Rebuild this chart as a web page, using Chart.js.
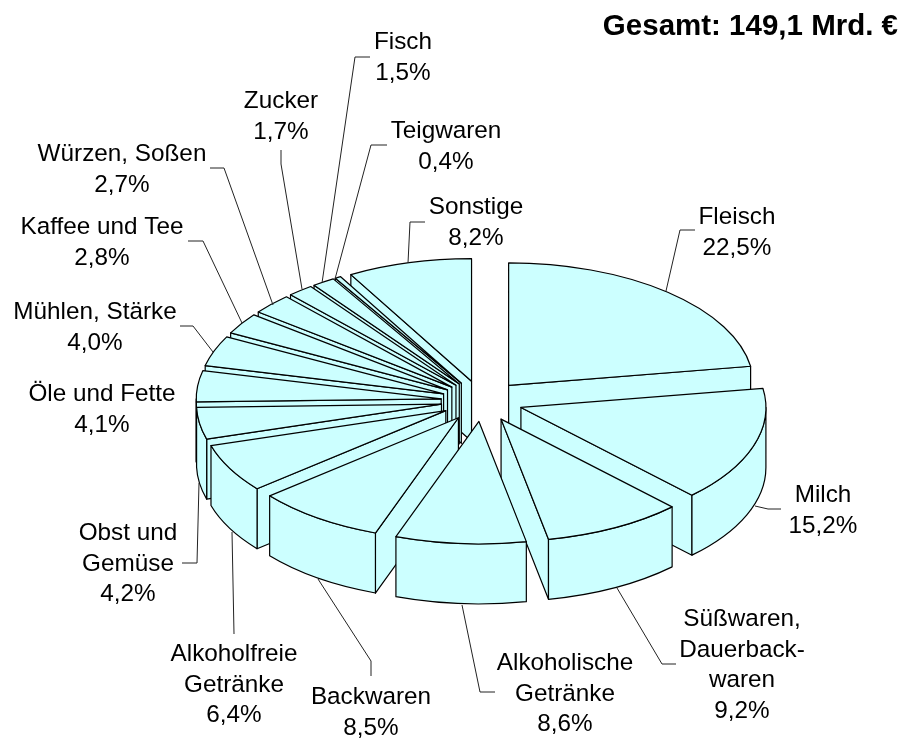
<!DOCTYPE html>
<html lang="de">
<head>
    <meta charset="UTF-8">
    <title>Gesamt: 149,1 Mrd. €</title>
    <script src="https://cdn.jsdelivr.net/npm/chart.js"></script>
    <style>
        html, body { margin: 0; padding: 0; background: #fff; }
        #wrap { position: relative; width: 906px; height: 738px; }
    </style>
</head>
<body>
    <div id="wrap"><canvas id="pie"></canvas></div>

    <script>
        const categories = ['Fleisch', 'Milch', 'Süßwaren, Dauerbackwaren', 'Alkoholische Getränke', 'Backwaren',
            'Alkoholfreie Getränke', 'Obst und Gemüse', 'Öle und Fette', 'Mühlen, Stärke', 'Kaffee und Tee',
            'Würzen, Soßen', 'Zucker', 'Fisch', 'Teigwaren', 'Sonstige'];
        const shares = [22.5, 15.2, 9.2, 8.6, 8.5, 6.4, 4.2, 4.1, 4.0, 2.8, 2.7, 1.7, 1.5, 0.4, 8.2];
        const labelLines = [['Fleisch'], ['Milch'], ['Süßwaren,', 'Dauerback-', 'waren'], ['Alkoholische', 'Getränke'],
            ['Backwaren'], ['Alkoholfreie', 'Getränke'], ['Obst und', 'Gemüse'], ['Öle und Fette'], ['Mühlen, Stärke'],
            ['Kaffee und Tee'], ['Würzen, Soßen'], ['Zucker'], ['Fisch'], ['Teigwaren'], ['Sonstige']];
        const totalText = 'Gesamt: 149,1 Mrd. €';

        // where each label sits: centre x, first baseline
        const labelPos = [[737, 224], [823, 502], [742, 626], [565, 670], [371, 704], [234, 661], [128, 540],
            [102, 401], [95, 319], [102, 234], [122, 161], [281, 108], [403, 49], [446, 138], [476, 214]];
        const lineStep = 30.5;

        // leader lines, null where the label has none
        const leaders = [
            [[695, 230], [680, 230], [666, 291]],
            [[755, 506], [768, 509], [781, 509]],
            [[617, 588], [662, 664], [676, 664]],
            [[462, 605], [480, 692], [495, 692]],
            [[318, 579], [371, 661], [371, 676]],
            [[232, 532], [234, 634]],
            [[199, 483], [197, 563], [182, 563]],
            null,
            [[213, 352], [193, 326], [180, 326]],
            [[242, 323], [203, 241], [188, 241]],
            [[273, 305], [224, 168], [210, 168]],
            [[302, 289], [281, 164], [281, 150]],
            [[322, 283], [355, 57], [370, 57]],
            [[335, 279], [371, 145], [387, 145]],
            [[408, 263], [410, 222], [425, 222]]
        ];

        const squash = 0.5;
        const explode = 41;
        const depth = 60;
        const edgeColor = '#000';
        const fillColor = '#CCFFFF';

        function sliceGeometry(arc) {
            const mid = (arc.startAngle + arc.endAngle) / 2;
            return {
                mid: mid,
                x: arc.x + Math.cos(mid) * explode,
                y: arc.y + Math.sin(mid) * explode * squash,
                r: arc.outerRadius
            };
        }

        function rimPoint(g, angle) {
            return [g.x + Math.cos(angle) * g.r, g.y + Math.sin(angle) * g.r * squash];
        }

        function drawCutFace(ctx, g, angle) {
            const e = rimPoint(g, angle);
            const m = rimPoint(g, g.mid);
            const dx = e[0] - g.x, dy = e[1] - g.y;
            // cross with straight down vs with the slice interior: only faces turned to us are seen
            const down = dx;
            const inside = dx * (m[1] - g.y) - dy * (m[0] - g.x);
            if (down * inside >= 0) return;
            ctx.beginPath();
            ctx.moveTo(g.x, g.y);
            ctx.lineTo(e[0], e[1]);
            ctx.lineTo(e[0], e[1] + depth);
            ctx.lineTo(g.x, g.y + depth);
            ctx.closePath();
            ctx.fill();
            ctx.stroke();
        }

        function drawRimWall(ctx, g, arc) {
            const from = Math.max(arc.startAngle, 0);
            const to = Math.min(arc.endAngle, Math.PI);
            if (to <= from) return;
            ctx.beginPath();
            ctx.ellipse(g.x, g.y, g.r, g.r * squash, 0, from, to);
            ctx.ellipse(g.x, g.y + depth, g.r, g.r * squash, 0, to, from, true);
            ctx.closePath();
            ctx.fill();
            ctx.stroke();
        }

        const pie3d = {
            id: 'pie3d',
            beforeDatasetsDraw(chart) {
                const ctx = chart.ctx;
                const arcs = chart.getDatasetMeta(0).data.slice();
                // painter's order: back slices first
                arcs.sort((a, b) => sliceGeometry(a).y - sliceGeometry(b).y);
                ctx.save();
                ctx.lineWidth = 1.2;
                ctx.lineJoin = 'round';
                ctx.strokeStyle = edgeColor;
                ctx.fillStyle = fillColor;
                arcs.forEach(arc => {
                    const g = sliceGeometry(arc);
                    drawCutFace(ctx, g, arc.startAngle);
                    drawCutFace(ctx, g, arc.endAngle);
                    drawRimWall(ctx, g, arc);

                    // top surface is the library's own arc, flattened
                    ctx.save();
                    ctx.translate(g.x, g.y);
                    ctx.scale(1, squash);
                    ctx.translate(-arc.x, -arc.y);
                    arc.draw(ctx);
                    ctx.restore();

                    ctx.beginPath();
                    ctx.moveTo(g.x, g.y);
                    ctx.ellipse(g.x, g.y, g.r, g.r * squash, 0, arc.startAngle, arc.endAngle);
                    ctx.closePath();
                    ctx.stroke();
                });
                ctx.restore();
                return false;
            },
            afterDraw(chart) {
                const ctx = chart.ctx;
                ctx.save();
                ctx.strokeStyle = '#222';
                ctx.lineWidth = 1;
                leaders.forEach(l => {
                    if (!l) return;
                    ctx.beginPath();
                    l.forEach((p, i) => i ? ctx.lineTo(p[0], p[1]) : ctx.moveTo(p[0], p[1]));
                    ctx.stroke();
                });
                ctx.fillStyle = '#000';
                ctx.textAlign = 'center';
                ctx.textBaseline = 'alphabetic';
                ctx.font = '24.3px "Liberation Sans", Arial, sans-serif';
                labelLines.forEach((lines, i) => {
                    const all = lines.concat(shares[i].toFixed(1).replace('.', ',') + '%');
                    all.forEach((t, k) => ctx.fillText(t, labelPos[i][0], labelPos[i][1] + k * lineStep));
                });
                ctx.font = 'bold 29.5px "Liberation Sans", Arial, sans-serif';
                ctx.textAlign = 'right';
                ctx.fillText(totalText, 898, 35);
                ctx.restore();
            }
        };

        new Chart(document.getElementById('pie'), {
            type: 'pie',
            data: {
                labels: categories,
                datasets: [{ data: shares, backgroundColor: fillColor, borderWidth: 0 }]
            },
            options: {
                responsive: true,
                maintainAspectRatio: false,
                animation: false,
                radius: 245,
                layout: { padding: { left: 58, top: 64 } },
                plugins: { legend: { display: false }, tooltip: { enabled: false } }
            },
            plugins: [pie3d]
        });
    </script>
</body>
</html>
